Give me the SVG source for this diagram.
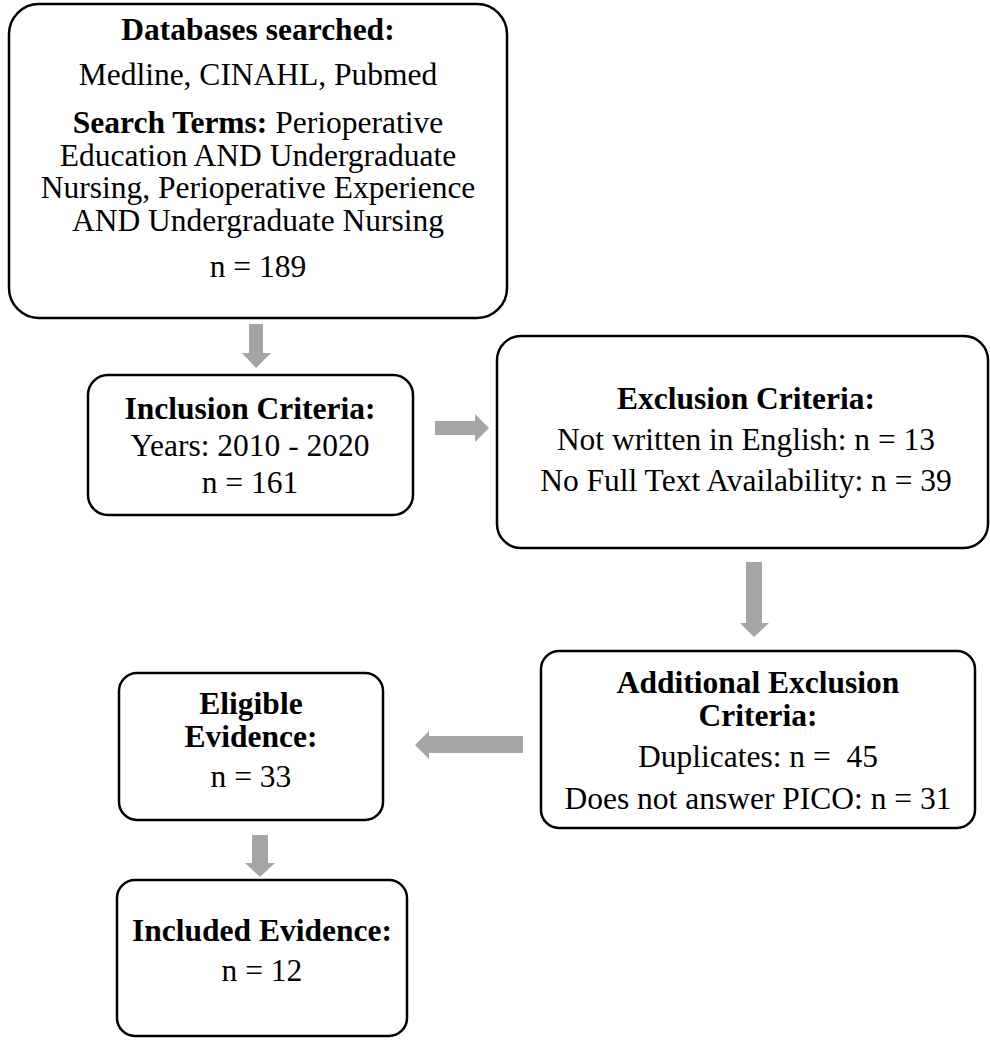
<svg xmlns="http://www.w3.org/2000/svg" width="990" height="1040" viewBox="0 0 990 1040">
<style>
.box{fill:#fff;stroke:#000;stroke-width:2.5}
.arr{fill:#a5a5a5;stroke:none}
text{font-family:"Liberation Serif","Times New Roman",serif;font-size:31.5px;fill:#000;text-anchor:middle}
.b{font-weight:bold}
</style>
<rect width="990" height="1040" fill="#fff"/>
<g id="connectors">
<polygon class="arr" points="249,324 263,324 263,353 271,353 256,368 242,353 249,353"/>
<polygon class="arr" points="435,421 475,421 475,414 489,428 475,442 475,435 435,435"/>
<polygon class="arr" points="746,562 762,562 762,623 769,623 754,637 740,623 746,623"/>
<polygon class="arr" points="523,736 429,736 429,731 415,745 429,759 429,753 523,753"/>
<polygon class="arr" points="252,835 268,835 268,863 275,863 260,877 245,863 252,863"/>
</g>
<g id="n1">
<rect class="box" x="9" y="4" width="498" height="314" rx="30"/>
<text x="258" y="40" class="b">Databases searched:</text>
<text x="258" y="85">Medline, CINAHL, Pubmed</text>
<text x="258" y="133"><tspan class="b">Search Terms:</tspan> Perioperative</text>
<text x="258" y="165.5">Education AND Undergraduate</text>
<text x="258" y="198">Nursing, Perioperative Experience</text>
<text x="258" y="230.5">AND Undergraduate Nursing</text>
<text x="258" y="277">n = 189</text>
</g>
<g id="n2">
<rect class="box" x="88" y="375" width="325" height="140" rx="20"/>
<text x="250" y="419" class="b">Inclusion Criteria:</text>
<text x="250" y="456">Years: 2010 - 2020</text>
<text x="250" y="493">n = 161</text>
</g>
<g id="n3">
<rect class="box" x="497" y="336" width="491" height="212" rx="24"/>
<text x="746" y="409" class="b">Exclusion Criteria:</text>
<text x="746" y="450">Not written in English: n = 13</text>
<text x="746" y="491">No Full Text Availability: n = 39</text>
</g>
<g id="n4">
<rect class="box" x="541" y="651" width="434" height="177" rx="18"/>
<text x="758" y="693" class="b">Additional Exclusion</text>
<text x="758" y="726" class="b">Criteria:</text>
<text x="758" y="767">Duplicates: n =&#160; 45</text>
<text x="758" y="809">Does not answer PICO: n = 31</text>
</g>
<g id="n5">
<rect class="box" x="119" y="673" width="264" height="147" rx="18"/>
<text x="251" y="714" class="b">Eligible</text>
<text x="251" y="747" class="b">Evidence:</text>
<text x="251" y="787">n = 33</text>
</g>
<g id="n6">
<rect class="box" x="117" y="880" width="290" height="156" rx="18"/>
<text x="262" y="941" class="b">Included Evidence:</text>
<text x="262" y="981">n = 12</text>
</g>
</svg>
